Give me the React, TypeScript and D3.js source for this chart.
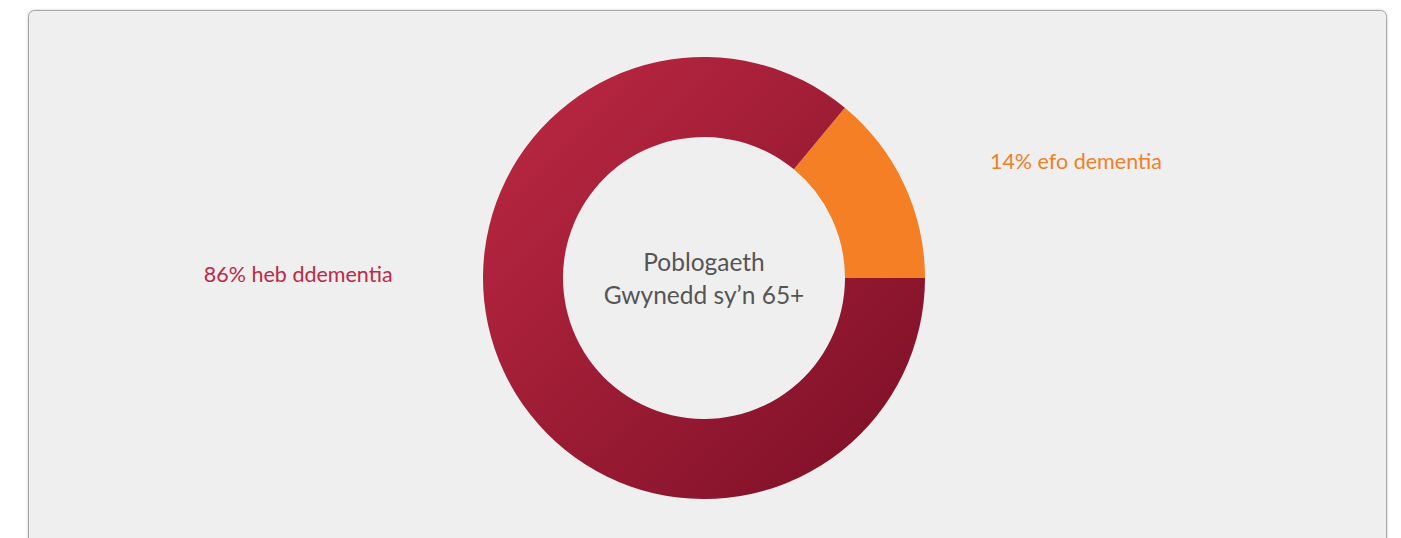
import React from "react";
import * as d3 from "d3";

const categories = ["efo dementia", "heb ddementia"];
const values = [14, 86];
const labels = ["14% efo dementia", "86% heb ddementia"];
const centerLines = ["Poblogaeth", "Gwynedd sy’n 65+"];

const W = 1401;
const H = 538;
const cx = 704;
const cy = 278;
const R = 221;
const r = 141;

export default function App() {
  const total = d3.sum(values);
  const orangeSpan = (values[0] / total) * 2 * Math.PI;
  const start = Math.PI / 2 - orangeSpan;
  const pie = d3
    .pie<number>()
    .sort(null)
    .value((d) => d)
    .startAngle(start)
    .endAngle(start + 2 * Math.PI);
  const arcs = pie(values);
  const arc = d3.arc<d3.PieArcDatum<number>>().innerRadius(r).outerRadius(R);
  const fills = ["#f47f24", "url(#redGrad)"];
  const labelColors = ["#f0802a", "#bd2a47"];
  const font = "Lato, 'Open Sans', sans-serif";

  const labelPos = [
    { x: cx + R * 1.683, y: cy - R * 0.53 },
    { x: cx - R * 1.836, y: cy - R * 0.02 },
  ];

  return (
    <svg
      width={W}
      height={H}
      style={{ position: "absolute", left: 0, top: 0 }}
    >
      <defs>
        <linearGradient
          id="redGrad"
          gradientUnits="userSpaceOnUse"
          x1={-R * 0.8}
          y1={-R * 0.8}
          x2={R}
          y2={R}
        >
          <stop offset="0" stopColor="#b82640" />
          <stop offset="1" stopColor="#7a0f26" />
        </linearGradient>
        <filter id="sh" x="-5%" y="-5%" width="110%" height="110%">
          <feDropShadow dx="0" dy="0" stdDeviation="1" floodColor="#000" floodOpacity="0.25" />
        </filter>
      </defs>
      <rect x={0} y={0} width={W} height={H} fill="#ffffff" />
      <rect
        x={28.5}
        y={10.5}
        width={1358}
        height={620}
        rx={6}
        fill="#efefef"
        stroke="#a8a8a8"
        strokeWidth={1}
        filter="url(#sh)"
      />
      <g transform={`translate(${cx},${cy})`}>
        {arcs.map((a, i) => (
          <path key={categories[i]} d={arc(a) || ""} fill={fills[i]} />
        ))}
      </g>
      {labels.map((t, i) => (
        <text
          key={t}
          x={labelPos[i].x}
          y={labelPos[i].y}
          textAnchor="middle"
          dominantBaseline="central"
          fontFamily={font}
          fontSize={21.5}
          fill={labelColors[i]}
        >
          {t}
        </text>
      ))}
      <text
        x={cx}
        y={cy}
        textAnchor="middle"
        fontFamily={font}
        fontSize={24.5}
        fill="#555555"
      >
        <tspan x={cx} y={cy - 7}>
          {centerLines[0]}
        </tspan>
        <tspan x={cx} y={cy + 26}>
          {centerLines[1]}
        </tspan>
      </text>
    </svg>
  );
}
